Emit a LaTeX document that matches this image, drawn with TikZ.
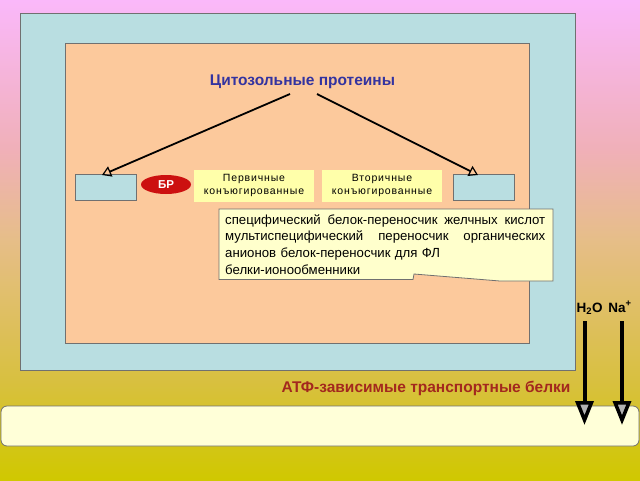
\documentclass[tikz,border=0pt]{standalone}
\usepackage{fontspec}
\setmainfont{Liberation Sans}
\usetikzlibrary{arrows.meta,shapes.geometric}
\definecolor{bgA}{HTML}{FAB8FA}
\definecolor{bgB}{HTML}{F0B0B8}
\definecolor{bgC}{HTML}{E6BE88}
\definecolor{bgD}{HTML}{D8C040}
\definecolor{bgE}{HTML}{D0C800}
\definecolor{cellblue}{HTML}{B9DEE1}
\definecolor{peach}{HTML}{FCC99C}
\definecolor{lyellow}{HTML}{FFFFAA}
\definecolor{callyel}{HTML}{FFFFCC}
\definecolor{bottomyel}{HTML}{FFFFD8}
\definecolor{titleblue}{HTML}{3333A0}
\definecolor{atfred}{HTML}{A3281E}
\definecolor{brred}{HTML}{CC1010}
\definecolor{edgegray}{HTML}{707070}
\newcommand{\spreadline}[1]{\leavevmode\hbox to 320pt{#1}}
\tikzset{
  bluebox/.style={draw=edgegray, fill=cellblue, line width=0.8pt},
  ybox/.style={fill=lyellow, minimum width=120pt, minimum height=32pt, inner sep=0pt, align=center, font=\fontsize{10.5}{12.5}\selectfont\addfontfeature{LetterSpace=8}},
  smallarrow/.style={line width=1.8pt, -{Triangle[open, length=9pt, width=11pt, line width=1.2pt]}},
  bigarrow/.style={line width=4pt, -{Triangle[length=24pt, width=18pt, fill=gray!60, line width=3.5pt]}},
  lbl/.style={font=\bfseries\fontsize{13.5}{15}\selectfont, anchor=base},
}
\begin{document}
\begin{tikzpicture}[x=1pt, y=-1pt]
\useasboundingbox (0,0) rectangle (640,480);
\shade[top color=bgA, bottom color=bgB] (0,0) rectangle (640,150.5);
\shade[top color=bgB, bottom color=bgC] (0,150) rectangle (640,240.5);
\shade[top color=bgC, bottom color=bgD] (0,240) rectangle (640,380.5);
\shade[top color=bgD, bottom color=bgE] (0,380) rectangle (640,480);
% cell
\draw[bluebox] (20,13) rectangle (575,370);
\draw[draw=edgegray, fill=peach, line width=0.8pt] (65,43) rectangle (529,343);
% bottom membrane
\draw[draw=edgegray, fill=bottomyel, line width=0.8pt, rounded corners=6pt] (1,406) rectangle (639,446);
% title
\node[text=titleblue, font=\bfseries\fontsize{15.5}{18}\selectfont] (title) at (302.5,82) {Цитозольные протеины};
\coordinate (tl) at (290,94);
\coordinate (tr) at (317,94);
% boxes
\node[bluebox, minimum width=61pt, minimum height=26pt, inner sep=0pt] (lbox) at (105.5,187) {};
\node[bluebox, minimum width=61pt, minimum height=26pt, inner sep=0pt] (rbox) at (483.5,187) {};
\node[ellipse, fill=brred, minimum width=50pt, minimum height=19pt, inner sep=0pt, text=white, font=\bfseries\fontsize{11.5}{13}\selectfont] (br) at (166,184.5) {БР};
\node[ybox] (prim) at (254,185.5) {Первичные\\конъюгированные};
\node[ybox] (sec) at (382,185.5) {Вторичные\\конъюгированные};
\draw[smallarrow] (tl) -- (102,175);
\draw[smallarrow] (tr) -- (478,175);
% callout
\draw[draw=edgegray, fill=callyel, line width=0.8pt] (219,209) -- (553,209) -- (553,281) -- (500,281) -- (414,274) -- (413,279.5) -- (219,279.5) -- cycle;
\node[anchor=north west, text width=320pt, inner sep=0pt, align=left, font=\fontsize{13.2}{16.5}\selectfont] (callout) at (225,214) {\spreadline{специфический\hfill белок-переносчик\hfill желчных\hfill кислот}\\ \spreadline{мультиспецифический\hfill переносчик\hfill органических}\\[0.5pt] анионов белок-переносчик для ФЛ\\ белки-ионообменники};
% ATP
\node[text=atfred, font=\bfseries\fontsize{15.5}{18}\selectfont, anchor=east] (atf) at (574,388) {АТФ-зависимые транспортные белки};
% H2O, Na
\node[lbl] (h2o) at (589.5,312) {H\textsubscript{2}O};
\node[lbl] (na) at (620,312) {Na\textsuperscript{+}};
\coordinate (h2oend) at (584.5,425);
\coordinate (naend) at (622,425);
\draw[bigarrow] (584.5,321) -- (h2oend);
\draw[bigarrow] (622,321) -- (naend);
\end{tikzpicture}
\end{document}
